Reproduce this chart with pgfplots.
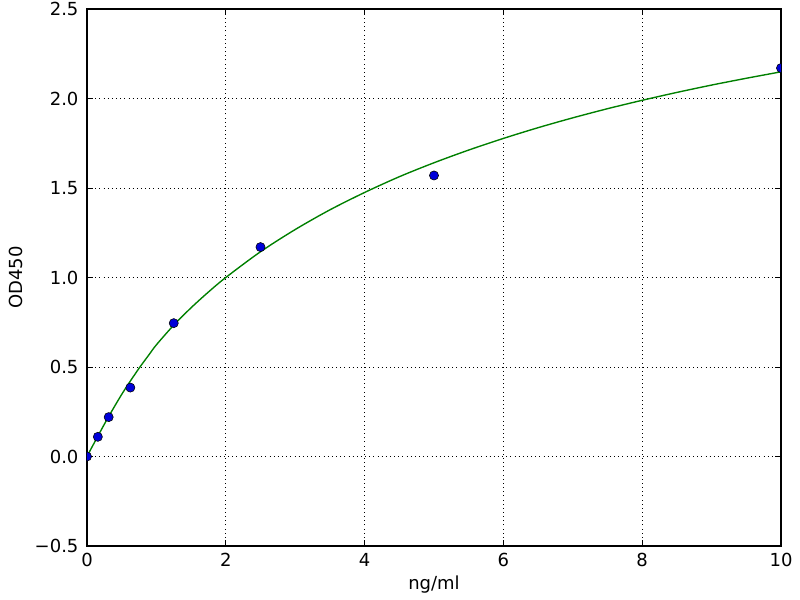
\documentclass[border=0pt]{standalone}
\usepackage{fontspec}
\setmainfont{DejaVu Sans}
\usepackage{pgfplots}
\pgfplotsset{compat=1.18}
\usepackage{pgfplotstable}

% fitted standard curve
\pgfplotstableread{
x y
0 0
0.05 0.037
0.1 0.073
0.2 0.145
0.3 0.215
0.4 0.282
0.5 0.347
0.6 0.407
0.75 0.493
0.9 0.572
1.0 0.624
1.25 0.734
1.5 0.831
1.75 0.919
2.0 1.000
2.5 1.144
3.0 1.268
3.5 1.378
4.0 1.475
4.5 1.563
5.0 1.641
5.5 1.712
6.0 1.777
6.5 1.837
7.0 1.892
7.5 1.943
8.0 1.990
8.5 2.034
9.0 2.075
9.5 2.113
10.0 2.149
}\fitcurve

% standards
\pgfplotstableread{
x y
0 0.0
0.15625 0.11
0.3125 0.22
0.625 0.385
1.25 0.745
2.5 1.17
5 1.57
10 2.17
}\standards

\begin{document}
\begin{tikzpicture}[font=\fontsize{13pt}{15pt}\selectfont]
  \path[use as bounding box] (0,0) rectangle (8in,6in);
  \begin{axis}[
      at={(0.87in,0.54in)},
      anchor=south west,
      scale only axis,
      width=6.94in,
      height=5.37in,
      xmin=0, xmax=10,
      ymin=-0.5, ymax=2.5,
      enlargelimits=false,
      axis line style={black, line width=1pt},
      tick align=inside,
      major tick length=4pt,
      tick style={black, line width=0.5pt},
      minor tick num=0,
      xtick={0,2,4,6,8,10},
      xticklabels={0,2,4,6,8,10},
      ytick={-0.5,0,0.5,1,1.5,2,2.5},
      yticklabels={−0.5,0.0,0.5,1.0,1.5,2.0,2.5},
      xticklabel style={anchor=north, inner sep=0pt, yshift=-5pt},
      yticklabel style={anchor=east, inner sep=0pt, xshift=-6pt},
      grid=major,
      major grid style={black, line width=0.5pt, dash pattern=on 0.6pt off 2.4pt},
      xlabel={ng/ml},
      ylabel={OD450},
      xlabel style={at={(axis description cs:0.5,-0.0819)}, anchor=base, inner sep=0pt},
      ylabel style={at={(axis description cs:-0.0929,0.5)}, anchor=base, inner sep=0pt},
      clip marker paths=true,
    ]
    \addplot[color={rgb,1:red,0;green,0.5;blue,0}, line width=1pt, no marks, smooth, tension=0.5] table[x=x, y=y] {\fitcurve};
    \addplot[only marks, mark=*, mark size=3.3pt,
      mark options={fill={rgb,1:red,0;green,0;blue,0.85}, draw=black, line width=0.4pt}] table[x=x, y=y] {\standards};
  \end{axis}
\end{tikzpicture}
\end{document}
